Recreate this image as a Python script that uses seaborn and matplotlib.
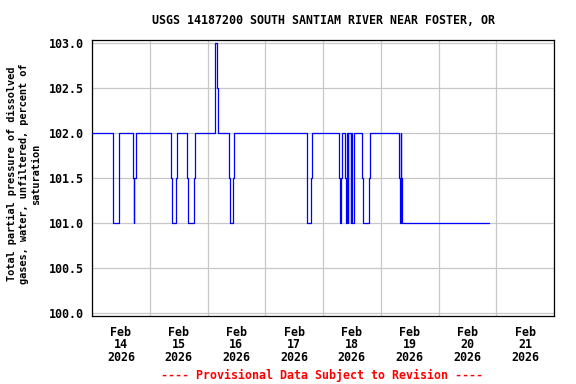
import pandas as pd
import seaborn as sns
import matplotlib.pyplot as plt
import matplotlib.dates as mdates

# step changes (15-minute data)
change_times = [
    "2026-02-14 00:00", "2026-02-14 08:45", "2026-02-14 11:15", "2026-02-14 17:00",
    "2026-02-14 17:15", "2026-02-14 17:30", "2026-02-14 18:15", "2026-02-15 09:00",
    "2026-02-15 09:15", "2026-02-15 11:00", "2026-02-15 11:30", "2026-02-15 15:30",
    "2026-02-15 16:00", "2026-02-15 18:15", "2026-02-15 18:45", "2026-02-16 03:15",
    "2026-02-16 04:00", "2026-02-16 04:30", "2026-02-16 09:00", "2026-02-16 09:30",
    "2026-02-16 10:45", "2026-02-16 11:00", "2026-02-17 17:30", "2026-02-17 19:00",
    "2026-02-17 19:30", "2026-02-18 06:45", "2026-02-18 07:15", "2026-02-18 07:30",
    "2026-02-18 08:00", "2026-02-18 09:00", "2026-02-18 09:30", "2026-02-18 10:00",
    "2026-02-18 10:15", "2026-02-18 10:30", "2026-02-18 11:30", "2026-02-18 11:45",
    "2026-02-18 12:15", "2026-02-18 13:00", "2026-02-18 16:15", "2026-02-18 16:45",
    "2026-02-18 19:00", "2026-02-18 19:30", "2026-02-19 07:30", "2026-02-19 08:00",
    "2026-02-19 08:15", "2026-02-19 08:30", "2026-02-19 09:00", "2026-02-20 21:00",
]
saturation = [
    102.0, 101.0, 102.0, 101.5,
    101.0, 101.5, 102.0, 101.5,
    101.0, 101.5, 102.0, 101.5,
    101.0, 101.5, 102.0, 103.0,
    102.5, 102.0, 101.5, 101.0,
    101.5, 102.0, 101.0, 101.5,
    102.0, 101.5, 101.0, 101.5,
    102.0, 101.5, 101.0, 102.0,
    101.0, 102.0, 101.0, 102.0,
    101.0, 102.0, 101.5, 101.0,
    101.5, 102.0, 101.5, 101.0,
    102.0, 101.5, 101.0, 101.0,
]
y_ticks = [100.0, 100.5, 101.0, 101.5, 102.0, 102.5, 103.0]

df = pd.DataFrame({"time": pd.to_datetime(change_times), "value": saturation})

sns.set_style("white")
plt.rcParams['font.family'] = ['DejaVu Sans Mono']
plt.rcParams['font.weight'] = 'bold'
plt.rcParams['text.color'] = 'black'
plt.rcParams['axes.labelcolor'] = 'black'
plt.rcParams['xtick.color'] = 'black'
plt.rcParams['ytick.color'] = 'black'

fig = plt.figure(figsize=(5.76, 3.84), dpi=100)
ax = fig.add_axes([92 / 576, 1 - 316 / 384, 462 / 576, 276 / 384])

sns.lineplot(data=df, x="time", y="value", ax=ax, color="blue", linewidth=0.9,
             drawstyle="steps-post", estimator=None, zorder=3)

ax.set_xlim(pd.Timestamp("2026-02-14 00:00"), pd.Timestamp("2026-02-22 00:00"))
ax.set_ylim(99.97, 103.03)
ax.set_yticks(y_ticks)
ax.set_yticklabels([f"{v:.1f}" for v in y_ticks], fontsize=8.4, fontweight='bold')

# labels at noon, grid lines at midnight
ax.xaxis.set_major_locator(mdates.HourLocator(byhour=12))
ax.xaxis.set_major_formatter(mdates.DateFormatter("%b\n%d\n%Y"))
ax.xaxis.set_minor_locator(mdates.DayLocator())
for lbl in ax.get_xticklabels():
    lbl.set_fontsize(8.4)
    lbl.set_fontweight('bold')
    lbl.set_linespacing(0.97)
ax.tick_params(axis='both', which='both', length=0, pad=6, colors='black')
ax.tick_params(axis='x', pad=7)

ax.grid(False)
ax.grid(True, axis='x', which='minor', color='#c8c8c8', linewidth=0.9)
ax.grid(True, axis='y', which='major', color='#c8c8c8', linewidth=0.9)
for s in ax.spines.values():
    s.set_color('black')
    s.set_linewidth(0.9)
    s.set_visible(True)

ax.set_xlabel("")
ax.set_ylabel("")

fig.text(323 / 576, 1 - 20 / 384, "USGS 14187200 SOUTH SANTIAM RIVER NEAR FOSTER, OR",
         ha='center', va='center', fontsize=8.4, fontweight='bold', color='black')
fig.text(24 / 576, 1 - 174 / 384,
         "Total partial pressure of dissolved\ngases, water, unfiltered, percent of\nsaturation",
         ha='center', va='center', rotation=90, fontsize=7.4, fontweight='bold',
         linespacing=1.25, multialignment='center', color='black')
fig.text(322 / 576, 1 - 375 / 384, "---- Provisional Data Subject to Revision ----",
         ha='center', va='center', fontsize=8.4, fontweight='bold', color='red')

plt.savefig("out.png", dpi=100)
